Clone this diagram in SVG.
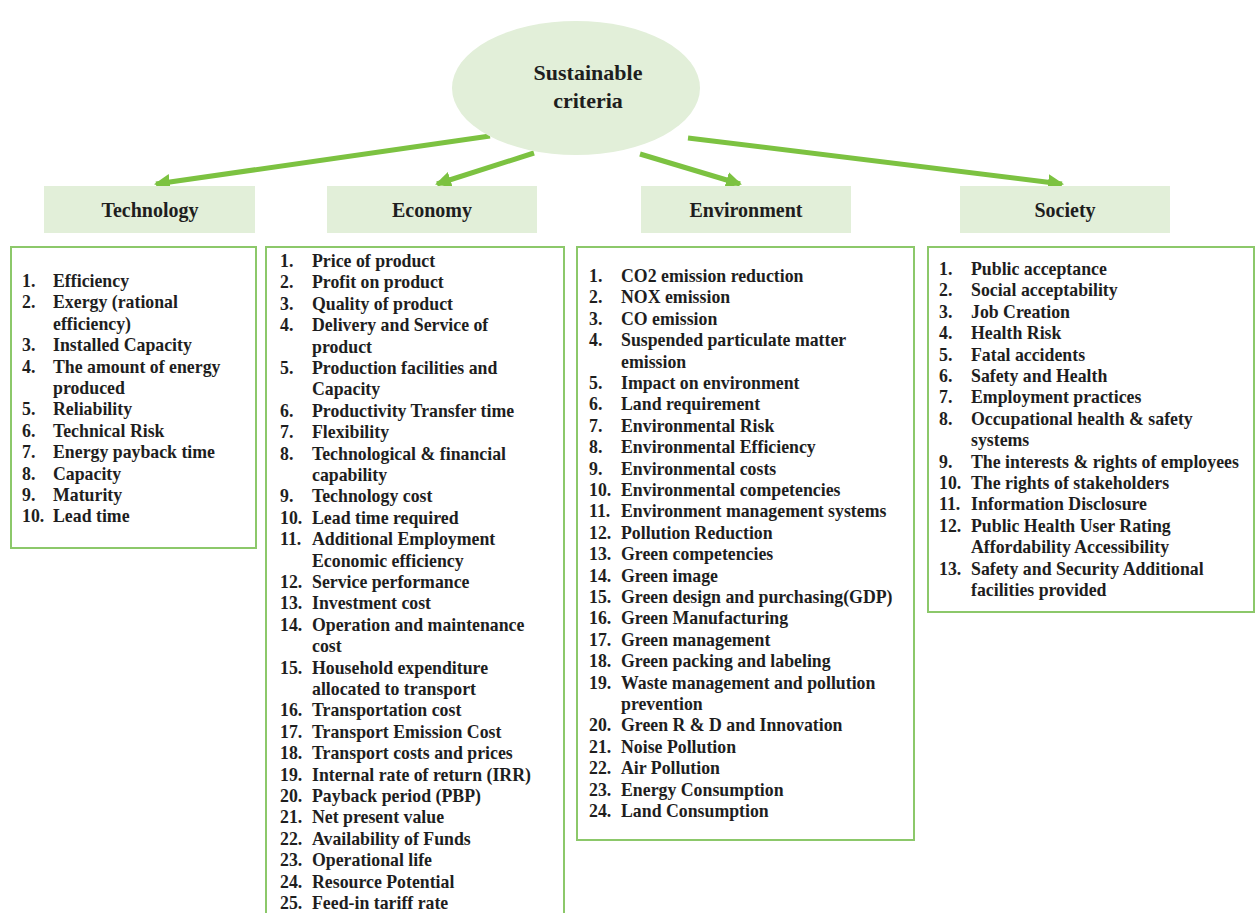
<svg xmlns="http://www.w3.org/2000/svg" width="1256" height="913" viewBox="0 0 1256 913">
  <style>
    .bg { fill: #ffffff; }
    .pill { fill: #e2efd9; }
    .box { fill: #ffffff; stroke: #8cc86a; stroke-width: 2; }
    .link { stroke: #7cc241; stroke-width: 5; fill: none; }
    .title { font-family: "Liberation Serif", "Times New Roman", serif; font-weight: bold; font-size: 22px; fill: #1e1e1e; text-anchor: middle; }
    .head { font-family: "Liberation Serif", "Times New Roman", serif; font-weight: bold; font-size: 20px; fill: #1e1e1e; text-anchor: middle; }
    .item { font-family: "Liberation Serif", "Times New Roman", serif; font-weight: bold; font-size: 17.8px; fill: #1e1e1e; }
  </style>
  <defs>
    <marker id="arrow" markerUnits="userSpaceOnUse" markerWidth="18" markerHeight="18" refX="14" refY="8" orient="auto">
      <path d="M0,0 L16,8 L0,16 Z" fill="#7cc241"/>
    </marker>
  </defs>

  <rect class="bg" x="0" y="0" width="1256" height="913"/>

  <!-- connectors from the root to each category -->
  <g id="connectors">
    <line class="link" x1="490" y1="136" x2="156" y2="184" marker-end="url(#arrow)"/>
    <line class="link" x1="534" y1="153" x2="437" y2="184" marker-end="url(#arrow)"/>
    <line class="link" x1="640" y1="154" x2="740" y2="184" marker-end="url(#arrow)"/>
    <line class="link" x1="688" y1="138" x2="1062" y2="184" marker-end="url(#arrow)"/>
  </g>

  <!-- root -->
  <g id="root">
    <ellipse class="pill" cx="576" cy="88" rx="124" ry="67"/>
    <text class="title" x="588" y="80">Sustainable</text>
    <text class="title" x="588" y="108">criteria</text>
  </g>

  <!-- category headers -->
  <g id="head-technology">
    <rect class="pill" x="44" y="186" width="211" height="47"/>
    <text class="head" x="150" y="217">Technology</text>
  </g>
  <g id="head-economy">
    <rect class="pill" x="327" y="186" width="210" height="47"/>
    <text class="head" x="432" y="217">Economy</text>
  </g>
  <g id="head-environment">
    <rect class="pill" x="641" y="186" width="210" height="47"/>
    <text class="head" x="746" y="217">Environment</text>
  </g>
  <g id="head-society">
    <rect class="pill" x="960" y="186" width="210" height="47"/>
    <text class="head" x="1065" y="217">Society</text>
  </g>

  <!-- Technology list -->
  <g id="list-technology">
    <rect class="box" x="11" y="247" width="245" height="301"/>
    <text class="item">
      <tspan x="22" y="287">1.</tspan><tspan x="53" y="287">Efficiency</tspan>
      <tspan x="22" y="308.4">2.</tspan><tspan x="53" y="308.4">Exergy (rational</tspan>
      <tspan x="53" y="329.8">efficiency)</tspan>
      <tspan x="22" y="351.2">3.</tspan><tspan x="53" y="351.2">Installed Capacity</tspan>
      <tspan x="22" y="372.6">4.</tspan><tspan x="53" y="372.6">The amount of energy</tspan>
      <tspan x="53" y="394">produced</tspan>
      <tspan x="22" y="415.4">5.</tspan><tspan x="53" y="415.4">Reliability</tspan>
      <tspan x="22" y="436.8">6.</tspan><tspan x="53" y="436.8">Technical Risk</tspan>
      <tspan x="22" y="458.2">7.</tspan><tspan x="53" y="458.2">Energy payback time</tspan>
      <tspan x="22" y="479.6">8.</tspan><tspan x="53" y="479.6">Capacity</tspan>
      <tspan x="22" y="501">9.</tspan><tspan x="53" y="501">Maturity</tspan>
      <tspan x="22" y="522.4">10.</tspan><tspan x="53" y="522.4">Lead time</tspan>
    </text>
  </g>

  <!-- Economy list -->
  <g id="list-economy">
    <rect class="box" x="266" y="247" width="298" height="680"/>
    <text class="item">
      <tspan x="280" y="267">1.</tspan><tspan x="312" y="267">Price of product</tspan>
      <tspan x="280" y="288.4">2.</tspan><tspan x="312" y="288.4">Profit on product</tspan>
      <tspan x="280" y="309.8">3.</tspan><tspan x="312" y="309.8">Quality of product</tspan>
      <tspan x="280" y="331.2">4.</tspan><tspan x="312" y="331.2">Delivery and Service of</tspan>
      <tspan x="312" y="352.6">product</tspan>
      <tspan x="280" y="374">5.</tspan><tspan x="312" y="374">Production facilities and</tspan>
      <tspan x="312" y="395.4">Capacity</tspan>
      <tspan x="280" y="416.8">6.</tspan><tspan x="312" y="416.8">Productivity Transfer time</tspan>
      <tspan x="280" y="438.2">7.</tspan><tspan x="312" y="438.2">Flexibility</tspan>
      <tspan x="280" y="459.6">8.</tspan><tspan x="312" y="459.6">Technological &amp; financial</tspan>
      <tspan x="312" y="481">capability</tspan>
      <tspan x="280" y="502.4">9.</tspan><tspan x="312" y="502.4">Technology cost</tspan>
      <tspan x="280" y="523.8">10.</tspan><tspan x="312" y="523.8">Lead time required</tspan>
      <tspan x="280" y="545.2">11.</tspan><tspan x="312" y="545.2">Additional Employment</tspan>
      <tspan x="312" y="566.6">Economic efficiency</tspan>
      <tspan x="280" y="588">12.</tspan><tspan x="312" y="588">Service performance</tspan>
      <tspan x="280" y="609.4">13.</tspan><tspan x="312" y="609.4">Investment cost</tspan>
      <tspan x="280" y="630.8">14.</tspan><tspan x="312" y="630.8">Operation and maintenance</tspan>
      <tspan x="312" y="652.2">cost</tspan>
      <tspan x="280" y="673.6">15.</tspan><tspan x="312" y="673.6">Household expenditure</tspan>
      <tspan x="312" y="695">allocated to transport</tspan>
      <tspan x="280" y="716.4">16.</tspan><tspan x="312" y="716.4">Transportation cost</tspan>
      <tspan x="280" y="737.8">17.</tspan><tspan x="312" y="737.8">Transport Emission Cost</tspan>
      <tspan x="280" y="759.2">18.</tspan><tspan x="312" y="759.2">Transport costs and prices</tspan>
      <tspan x="280" y="780.6">19.</tspan><tspan x="312" y="780.6">Internal rate of return (IRR)</tspan>
      <tspan x="280" y="802">20.</tspan><tspan x="312" y="802">Payback period (PBP)</tspan>
      <tspan x="280" y="823.4">21.</tspan><tspan x="312" y="823.4">Net present value</tspan>
      <tspan x="280" y="844.8">22.</tspan><tspan x="312" y="844.8">Availability of Funds</tspan>
      <tspan x="280" y="866.2">23.</tspan><tspan x="312" y="866.2">Operational life</tspan>
      <tspan x="280" y="887.6">24.</tspan><tspan x="312" y="887.6">Resource Potential</tspan>
      <tspan x="280" y="909">25.</tspan><tspan x="312" y="909">Feed-in tariff rate</tspan>
    </text>
  </g>

  <!-- Environment list -->
  <g id="list-environment">
    <rect class="box" x="577" y="247" width="337" height="593"/>
    <text class="item">
      <tspan x="589" y="282">1.</tspan><tspan x="621" y="282">CO2 emission reduction</tspan>
      <tspan x="589" y="303.4">2.</tspan><tspan x="621" y="303.4">NOX emission</tspan>
      <tspan x="589" y="324.8">3.</tspan><tspan x="621" y="324.8">CO emission</tspan>
      <tspan x="589" y="346.2">4.</tspan><tspan x="621" y="346.2">Suspended particulate matter</tspan>
      <tspan x="621" y="367.6">emission</tspan>
      <tspan x="589" y="389">5.</tspan><tspan x="621" y="389">Impact on environment</tspan>
      <tspan x="589" y="410.4">6.</tspan><tspan x="621" y="410.4">Land requirement</tspan>
      <tspan x="589" y="431.8">7.</tspan><tspan x="621" y="431.8">Environmental Risk</tspan>
      <tspan x="589" y="453.2">8.</tspan><tspan x="621" y="453.2">Environmental Efficiency</tspan>
      <tspan x="589" y="474.6">9.</tspan><tspan x="621" y="474.6">Environmental costs</tspan>
      <tspan x="589" y="496">10.</tspan><tspan x="621" y="496">Environmental competencies</tspan>
      <tspan x="589" y="517.4">11.</tspan><tspan x="621" y="517.4">Environment management systems</tspan>
      <tspan x="589" y="538.8">12.</tspan><tspan x="621" y="538.8">Pollution Reduction</tspan>
      <tspan x="589" y="560.2">13.</tspan><tspan x="621" y="560.2">Green competencies</tspan>
      <tspan x="589" y="581.6">14.</tspan><tspan x="621" y="581.6">Green image</tspan>
      <tspan x="589" y="603">15.</tspan><tspan x="621" y="603">Green design and purchasing(GDP)</tspan>
      <tspan x="589" y="624.4">16.</tspan><tspan x="621" y="624.4">Green Manufacturing</tspan>
      <tspan x="589" y="645.8">17.</tspan><tspan x="621" y="645.8">Green management</tspan>
      <tspan x="589" y="667.2">18.</tspan><tspan x="621" y="667.2">Green packing and labeling</tspan>
      <tspan x="589" y="688.6">19.</tspan><tspan x="621" y="688.6">Waste management and pollution</tspan>
      <tspan x="621" y="710">prevention</tspan>
      <tspan x="589" y="731.4">20.</tspan><tspan x="621" y="731.4">Green R &amp; D and Innovation</tspan>
      <tspan x="589" y="752.8">21.</tspan><tspan x="621" y="752.8">Noise Pollution</tspan>
      <tspan x="589" y="774.2">22.</tspan><tspan x="621" y="774.2">Air Pollution</tspan>
      <tspan x="589" y="795.6">23.</tspan><tspan x="621" y="795.6">Energy Consumption</tspan>
      <tspan x="589" y="817">24.</tspan><tspan x="621" y="817">Land Consumption</tspan>
    </text>
  </g>

  <!-- Society list -->
  <g id="list-society">
    <rect class="box" x="928" y="247" width="326" height="365"/>
    <text class="item">
      <tspan x="939" y="275">1.</tspan><tspan x="971" y="275">Public acceptance</tspan>
      <tspan x="939" y="296.4">2.</tspan><tspan x="971" y="296.4">Social acceptability</tspan>
      <tspan x="939" y="317.8">3.</tspan><tspan x="971" y="317.8">Job Creation</tspan>
      <tspan x="939" y="339.2">4.</tspan><tspan x="971" y="339.2">Health Risk</tspan>
      <tspan x="939" y="360.6">5.</tspan><tspan x="971" y="360.6">Fatal accidents</tspan>
      <tspan x="939" y="382">6.</tspan><tspan x="971" y="382">Safety and Health</tspan>
      <tspan x="939" y="403.4">7.</tspan><tspan x="971" y="403.4">Employment practices</tspan>
      <tspan x="939" y="424.8">8.</tspan><tspan x="971" y="424.8">Occupational health &amp; safety</tspan>
      <tspan x="971" y="446.2">systems</tspan>
      <tspan x="939" y="467.6">9.</tspan><tspan x="971" y="467.6">The interests &amp; rights of employees</tspan>
      <tspan x="939" y="489">10.</tspan><tspan x="971" y="489">The rights of stakeholders</tspan>
      <tspan x="939" y="510.4">11.</tspan><tspan x="971" y="510.4">Information Disclosure</tspan>
      <tspan x="939" y="531.8">12.</tspan><tspan x="971" y="531.8">Public Health User Rating</tspan>
      <tspan x="971" y="553.2">Affordability Accessibility</tspan>
      <tspan x="939" y="574.6">13.</tspan><tspan x="971" y="574.6">Safety and Security Additional</tspan>
      <tspan x="971" y="596">facilities provided</tspan>
    </text>
  </g>
</svg>
